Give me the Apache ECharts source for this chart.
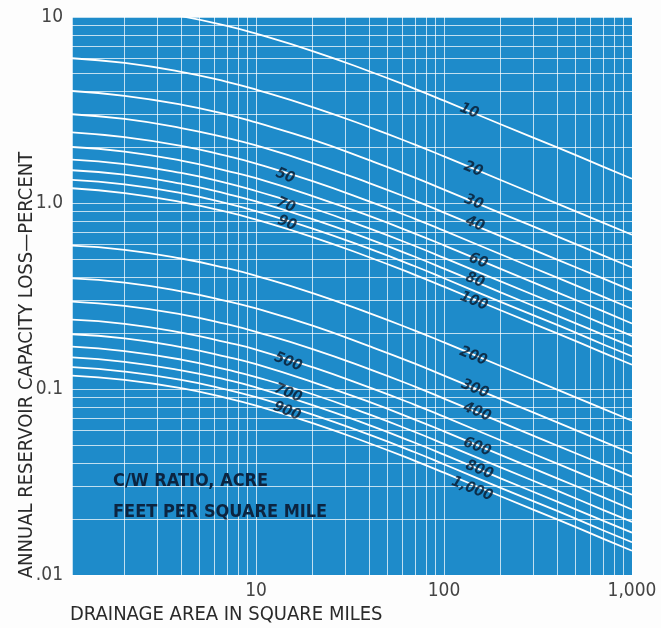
<!DOCTYPE html>
<html>
<head>
<meta charset="utf-8">
<script src="https://cdn.jsdelivr.net/npm/echarts@6/dist/echarts.min.js"></script>
<style>
html,body{margin:0;padding:0;background:#fdfdfd;}
#chart{width:661px;height:628px;}
</style>
</head>
<body>
<div id="chart"></div>
<script>
// Drainage area (square miles) sample points
const xArea = [1.05, 2, 4, 7, 10, 20, 40, 70, 100, 200, 400, 700, 1000];

// Annual reservoir capacity loss (percent) per C/W ratio curve
const loss10   = [12.0, 11.3, 10.1, 8.96, 8.14, 6.56, 5.11, 4.11, 3.55, 2.65, 1.99, 1.57, 1.35];
const loss20   = [6.0, 5.66, 5.07, 4.48, 4.07, 3.28, 2.56, 2.06, 1.78, 1.33, 0.993, 0.785, 0.675];
const loss30   = [4.0, 3.77, 3.38, 2.99, 2.71, 2.19, 1.70, 1.37, 1.18, 0.883, 0.662, 0.523, 0.45];
const loss40   = [3.0, 2.83, 2.53, 2.24, 2.04, 1.64, 1.28, 1.03, 0.888, 0.663, 0.496, 0.393, 0.338];
const loss50   = [2.4, 2.26, 2.03, 1.79, 1.63, 1.31, 1.02, 0.822, 0.71, 0.53, 0.397, 0.314, 0.27];
const loss60   = [2.0, 1.89, 1.69, 1.49, 1.36, 1.09, 0.852, 0.685, 0.592, 0.442, 0.331, 0.262, 0.225];
const loss70   = [1.71, 1.62, 1.45, 1.28, 1.16, 0.937, 0.73, 0.587, 0.507, 0.379, 0.284, 0.224, 0.193];
const loss80   = [1.5, 1.42, 1.27, 1.12, 1.02, 0.82, 0.639, 0.514, 0.444, 0.331, 0.248, 0.196, 0.169];
const loss90   = [1.33, 1.26, 1.13, 0.996, 0.904, 0.729, 0.568, 0.457, 0.394, 0.294, 0.221, 0.174, 0.15];
const loss100  = [1.2, 1.13, 1.01, 0.896, 0.814, 0.656, 0.511, 0.411, 0.355, 0.265, 0.199, 0.157, 0.135];
const loss200  = [0.59, 0.56, 0.503, 0.446, 0.406, 0.328, 0.256, 0.206, 0.178, 0.133, 0.0993, 0.0785, 0.0675];
const loss300  = [0.393, 0.373, 0.335, 0.297, 0.271, 0.219, 0.17, 0.137, 0.118, 0.0883, 0.0662, 0.0523, 0.045];
const loss400  = [0.295, 0.28, 0.252, 0.223, 0.203, 0.164, 0.128, 0.103, 0.0888, 0.0663, 0.0496, 0.0393, 0.0338];
const loss500  = [0.236, 0.224, 0.201, 0.178, 0.163, 0.131, 0.102, 0.0822, 0.071, 0.053, 0.0397, 0.0314, 0.027];
const loss600  = [0.197, 0.187, 0.168, 0.149, 0.136, 0.109, 0.0852, 0.0685, 0.0592, 0.0442, 0.0331, 0.0262, 0.0225];
const loss700  = [0.169, 0.16, 0.144, 0.127, 0.116, 0.0937, 0.073, 0.0587, 0.0507, 0.0379, 0.0284, 0.0224, 0.0193];
const loss800  = [0.148, 0.14, 0.126, 0.112, 0.102, 0.082, 0.0639, 0.0514, 0.0444, 0.0331, 0.0248, 0.0196, 0.0169];
const loss900  = [0.131, 0.124, 0.112, 0.0993, 0.0904, 0.0729, 0.0568, 0.0457, 0.0394, 0.0294, 0.0221, 0.0174, 0.015];
const loss1000 = [0.118, 0.112, 0.101, 0.0893, 0.0814, 0.0656, 0.0511, 0.0411, 0.0355, 0.0265, 0.0199, 0.0157, 0.0135];

const curves = [loss10, loss20, loss30, loss40, loss50, loss60, loss70, loss80, loss90, loss100,
                loss200, loss300, loss400, loss500, loss600, loss700, loss800, loss900, loss1000];
const curveNames = ['10','20','30','40','50','60','70','80','90','100',
                    '200','300','400','500','600','700','800','900','1,000'];

// Curve labels: text, x (sq mi), y (percent)
const labelText = ['10','20','30','40','60','80','100','200','300','400','600','800','1,000','50','70','90','500','700','900'];
const labelX    = [136, 143, 144, 146, 152, 146, 144, 143, 146, 150, 150, 154, 141, 14.3, 14.4, 14.6, 14.8, 14.8, 14.6];
const labelY    = [3.13, 1.52, 1.01, 0.771, 0.488, 0.385, 0.297, 0.150, 0.100, 0.0752, 0.0488, 0.0367, 0.029, 1.40, 0.975, 0.78, 0.140, 0.095, 0.076];

// Tick labels
const xTickVals = [10, 100, 1000];
const xTickText = ['10', '100', '1,000'];
const yTickVals = [0.01, 0.1, 1, 10];
const yTickText = ['.01', '0.1', '1.0', '10'];

// Log-paper grid lines
const xGridVals = [2,3,4,5,6,7,8,9,20,30,40,50,60,70,80,90,200,300,400,500,600,700,800,900];
const yGridVals = [0.02,0.03,0.04,0.05,0.06,0.07,0.08,0.09,0.2,0.3,0.4,0.5,0.6,0.7,0.8,0.9,2,3,4,5,6,7,8,9];

const FONT = "'Liberation Sans Narrow','DejaVu Sans Condensed',sans-serif";
const gridColor = 'rgba(255,255,255,0.72)';

function tickFmt(vals, texts) {
  return function (v) {
    for (let i = 0; i < vals.length; i++) {
      if (Math.abs(Math.log10(v) - Math.log10(vals[i])) < 1e-6) return texts[i];
    }
    return '';
  };
}

const series = curves.map((arr, i) => ({
  name: curveNames[i],
  type: 'line',
  data: xArea.map((x, j) => [x, arr[j]]),
  smooth: 0.5,
  showSymbol: false,
  symbol: 'none',
  lineStyle: { color: '#ffffff', width: 1.8 },
  silent: true,
  z: 3
}));

series[0].markLine = {
  silent: true,
  symbol: 'none',
  label: { show: false },
  animation: false,
  lineStyle: { color: gridColor, width: 1, type: 'solid' },
  data: xGridVals.map(v => ({ xAxis: v })).concat(yGridVals.map(v => ({ yAxis: v })))
};

series.push({
  type: 'scatter',
  data: labelText.map((t, i) => [labelX[i], labelY[i], t]),
  symbolSize: 0,
  silent: true,
  z: 5,
  label: {
    show: true,
    position: 'inside',
    formatter: p => p.data[2],
    rotate: -22,
    color: '#08182c',
    fontSize: 15,
    fontWeight: 'bold',
    fontStyle: 'italic',
    fontFamily: "'DejaVu Sans Condensed','DejaVu Sans',sans-serif"
  }
});

const chart = echarts.init(document.getElementById('chart'), null, { renderer: 'canvas' });
chart.setOption({
  animation: false,
  backgroundColor: '#fdfdfd',
  grid: {
    left: 72, right: 29, top: 17, bottom: 53,
    show: true, backgroundColor: '#1e8bca', borderWidth: 0
  },
  xAxis: {
    type: 'log', logBase: 10, min: 1.05, max: 1000,
    axisLine: { show: false },
    axisTick: { show: false },
    axisLabel: {
      formatter: tickFmt(xTickVals, xTickText),
      color: '#444', fontSize: 19, fontFamily: FONT, margin: 7
    },
    splitLine: { show: true, lineStyle: { color: gridColor, width: 1 } }
  },
  yAxis: {
    type: 'log', logBase: 10, min: 0.01, max: 10,
    axisLine: { show: false },
    axisTick: { show: false },
    axisLabel: {
      formatter: tickFmt(yTickVals, yTickText),
      color: '#444', fontSize: 19, fontFamily: FONT, margin: 9
    },
    splitLine: { show: true, lineStyle: { color: gridColor, width: 1 } }
  },
  graphic: [
    {
      type: 'text', left: 70, top: 605,
      style: { text: 'DRAINAGE AREA IN SQUARE MILES', fill: '#2a2a2a', fontSize: 20, fontFamily: FONT }
    },
    {
      type: 'text', x: 27, y: 365, rotation: Math.PI / 2,
      style: {
        text: 'ANNUAL RESERVOIR CAPACITY LOSS\u2014PERCENT', fill: '#2a2a2a',
        fontSize: 20, fontFamily: FONT, align: 'center', verticalAlign: 'middle'
      }
    },
    {
      type: 'text', left: 113, top: 472, z: 10,
      style: { text: 'C/W RATIO, ACRE', fill: '#0c2440', fontSize: 18, fontWeight: 'bold', fontFamily: FONT }
    },
    {
      type: 'text', left: 113, top: 503, z: 10,
      style: { text: 'FEET PER SQUARE MILE', fill: '#0c2440', fontSize: 18, fontWeight: 'bold', fontFamily: FONT }
    }
  ],
  series: series
});
</script>
</body>
</html>
